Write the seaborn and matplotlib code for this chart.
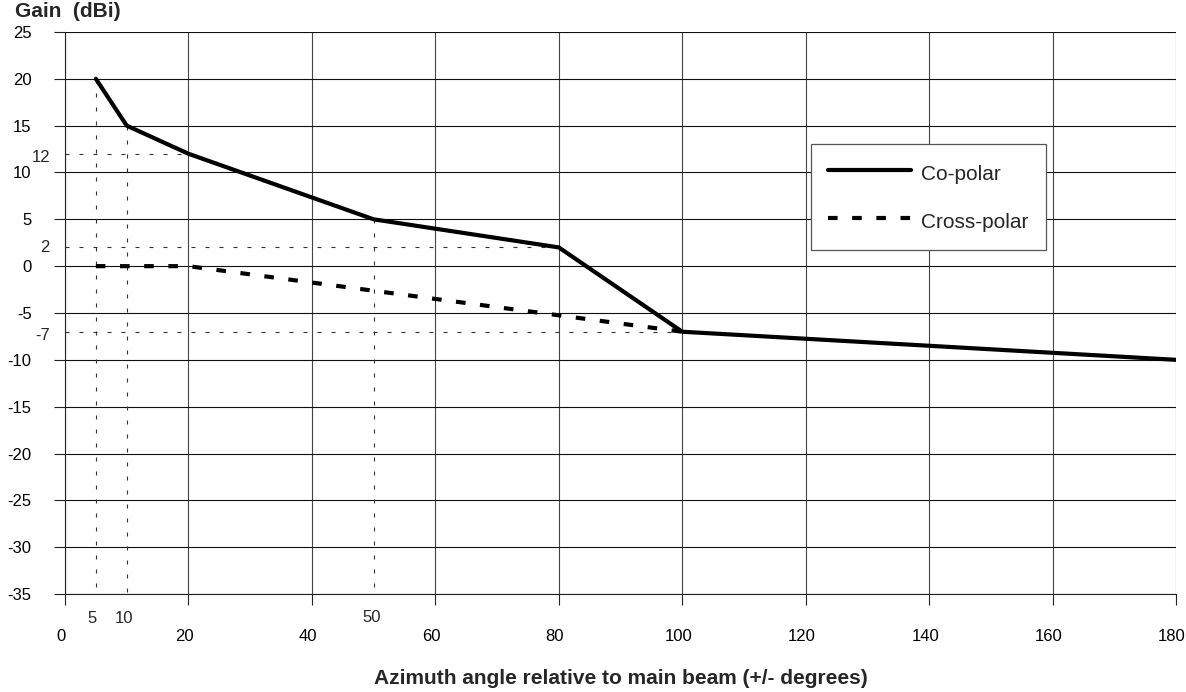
import pandas as pd
import matplotlib
matplotlib.use("Agg")
import matplotlib.pyplot as plt
import matplotlib.transforms as mtransforms
import seaborn as sns

### Antenna pattern data
co_angle = [5, 10, 20, 50, 80, 100, 180]
co_gain = [20, 15, 12, 5, 2, -7, -10]
cross_angle = [5, 20, 100]
cross_gain = [0, 0, -7]

# dotted helper lines: vertical (x, y_top) and horizontal (y, x_end)
vref_x = [5, 10, 50]
vref_top = [20, 15, 5]
href_y = [12, 2, -7]
href_end = [20, 80, 100]

x_ticks = [0, 20, 40, 60, 80, 100, 120, 140, 160, 180]
y_ticks = [25, 20, 15, 10, 5, 0, -5, -10, -15, -20, -25, -30, -35]

df = pd.concat([
    pd.DataFrame({"angle": co_angle, "gain": co_gain, "series": "Co-polar"}),
    pd.DataFrame({"angle": cross_angle, "gain": cross_gain, "series": "Cross-polar"}),
])

sns.set_style("white")
plt.rcParams['font.family'] = ['Liberation Sans', 'DejaVu Sans']
plt.rcParams['axes.unicode_minus'] = False

fig = plt.figure(figsize=(11.86, 6.92), dpi=100)
ax = fig.add_axes([0.0548, 0.1416, 0.9368, 0.8122])

# grid
for x in x_ticks:
    ax.axvline(x, color="#444444", lw=0.8, zorder=1)
for y in y_ticks:
    ax.axhline(y, color="#111111", lw=0.8, zorder=1)

# dotted guides
for x, yt in zip(vref_x, vref_top):
    ax.plot([x, x], [yt, -35], color="#333333", lw=0.8, ls=(0, (3.6, 9)), zorder=2)
for y, xe in zip(href_y, href_end):
    ax.plot([0, xe], [y, y], color="#333333", lw=0.8, ls=(0, (3.6, 9)), zorder=2)

sns.lineplot(data=df, x="angle", y="gain", style="series",
             dashes={"Co-polar": "", "Cross-polar": (2.3, 3.5)},
             color="black", linewidth=3, ax=ax, zorder=3, sort=False)

ax.set_xlim(0, 180)
ax.set_ylim(-35, 25)
ax.set_xticks(x_ticks)
ax.set_yticks(y_ticks)
ax.tick_params(axis="both", direction="out", length=8, width=0.8, color="#222222",
               labelsize=12, labelcolor="black", left=True, bottom=True)
ax.tick_params(axis="y", pad=16)
ax.tick_params(axis="x", pad=17)
for s in ["top", "right"]:
    ax.spines[s].set_visible(False)
for s in ["left", "bottom"]:
    ax.spines[s].set_color("#222222")
    ax.spines[s].set_linewidth(0.8)

# x tick labels sit a little left of their ticks in the original
shift = mtransforms.ScaledTranslation(-4 / 100, 0, fig.dpi_scale_trans)
for lab in ax.get_xticklabels():
    lab.set_transform(lab.get_transform() + shift)

# extra tick labels for guide values
tx = mtransforms.blended_transform_factory(ax.transData, ax.transAxes)
for x, dx, dy in zip(vref_x, [-0.6, -0.5, -0.3], [-0.043, -0.043, -0.041]):
    ax.text(x + dx, dy, str(x), transform=tx, ha="center", va="center", fontsize=12)
ty = mtransforms.blended_transform_factory(ax.transAxes, ax.transData)
for y, dy in zip(href_y, [-0.35, 0.0, -0.35]):
    ax.text(-0.0135, y + dy, str(y), transform=ty, ha="right", va="center", fontsize=12)

ax.set_xlabel("Azimuth angle relative to main beam (+/- degrees)",
              fontsize=15, fontweight="bold", labelpad=18)
ax.set_ylabel("")
fig.text(0.0125, 0.983, "Gain  (dBi)", fontsize=15, fontweight="bold", ha="left", va="center")

leg = ax.legend(loc="upper left", bbox_to_anchor=(0.671, 0.801), borderaxespad=0,
                fontsize=15, handlelength=4.0, handleheight=1.4, handletextpad=0.5,
                labelspacing=1.15, borderpad=0.82, fancybox=False, framealpha=1,
                edgecolor="#555555", title=None)
leg.get_frame().set_linewidth(0.9)
leg.set_zorder(5)

fig.savefig("out.png", dpi=100)
